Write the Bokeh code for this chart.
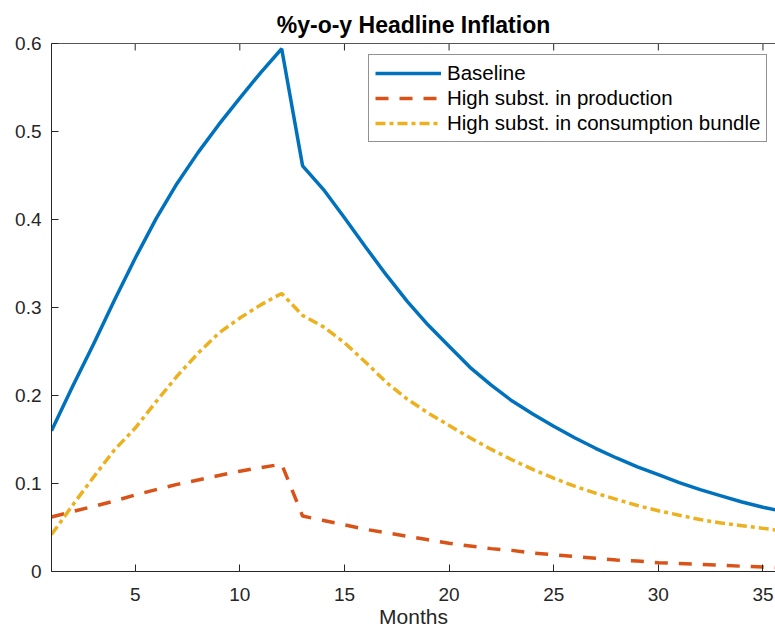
import math
from bokeh.plotting import figure
from bokeh.models import Range1d, LinearAxis, FixedTicker, Legend, LegendItem
from bokeh.embed import file_html
from bokeh.resources import INLINE

months = list(range(1, 37))
baseline = [0.160, 0.210, 0.258, 0.308, 0.356, 0.401, 0.441, 0.476, 0.508, 0.538, 0.567, 0.594,
            0.461, 0.434, 0.402, 0.369, 0.337, 0.307, 0.280, 0.256, 0.232, 0.212, 0.194, 0.179,
            0.165, 0.152, 0.140, 0.129, 0.119, 0.110, 0.101, 0.093, 0.086, 0.079, 0.073, 0.068]
high_prod = [0.062, 0.068, 0.074, 0.080, 0.087, 0.093, 0.099, 0.104, 0.109, 0.114, 0.118, 0.122,
             0.063, 0.058, 0.053, 0.048, 0.044, 0.040, 0.036, 0.032, 0.029, 0.026, 0.024, 0.021,
             0.019, 0.017, 0.015, 0.013, 0.012, 0.010, 0.009, 0.008, 0.007, 0.006, 0.005, 0.004]
high_cons = [0.042, 0.075, 0.107, 0.138, 0.163, 0.193, 0.222, 0.248, 0.271, 0.288, 0.303, 0.316,
             0.291, 0.278, 0.260, 0.238, 0.215, 0.196, 0.180, 0.166, 0.152, 0.139, 0.127, 0.116,
             0.106, 0.097, 0.089, 0.082, 0.075, 0.069, 0.064, 0.059, 0.055, 0.052, 0.049, 0.046]

x_ticks = [5, 10, 15, 20, 25, 30, 35]
y_ticks = [0, 0.1, 0.2, 0.3, 0.4, 0.5, 0.6]
y_tick_labels = ["0", "0.1", "0.2", "0.3", "0.4", "0.5", "0.6"]
x_min, x_max = 1, 35.6
y_min, y_max = 0, 0.6

FONT = "Liberation Sans"
AX = "#262626"

p = figure(width=775, height=630, x_range=Range1d(x_min, x_max), y_range=Range1d(y_min, y_max),
           output_backend="svg", toolbar_location=None,
           min_border_left=51, min_border_right=0, min_border_top=43, min_border_bottom=59)
p.background_fill_color = "white"
p.border_fill_color = "white"
p.outline_line_color = None
p.grid.visible = False

p.title.text = "%y-o-y Headline Inflation"
p.title.align = "center"
p.title.text_font = FONT
p.title.text_font_size = "23px"
p.title.text_font_style = "bold"
p.title.text_color = "black"
p.title.offset = 0
p.title.standoff = 12

for ax in (p.xaxis[0], p.yaxis[0]):
    ax.axis_line_color = AX
    ax.axis_line_width = 1
    ax.major_tick_line_color = AX
    ax.major_tick_in = 7
    ax.major_tick_out = 0
    ax.minor_tick_line_color = None
    ax.major_label_text_font = FONT
    ax.major_label_text_font_size = "19px"
    ax.major_label_text_color = AX

p.xaxis[0].ticker = FixedTicker(ticks=x_ticks)
p.xaxis[0].major_label_standoff = 16
p.xaxis[0].axis_label = "Months"
p.xaxis[0].axis_label_text_font = FONT
p.xaxis[0].axis_label_text_font_size = "21px"
p.xaxis[0].axis_label_text_font_style = "normal"
p.xaxis[0].axis_label_text_color = AX
p.xaxis[0].axis_label_standoff = 1

p.yaxis[0].ticker = FixedTicker(ticks=y_ticks)
p.yaxis[0].major_label_overrides = {t: l for t, l in zip(y_ticks, y_tick_labels)}
p.yaxis[0].major_label_standoff = 10

# top box edge (no labels), ticks drawn as inward dashes
top = LinearAxis(ticker=FixedTicker(ticks=[]), axis_line_color="#555555", axis_line_width=1,
                 major_tick_line_color=None, minor_tick_line_color=None)
p.add_layout(top, "above")
p.scatter(x_ticks, [y_max] * len(x_ticks), marker="dash", angle=math.pi / 2, size=14,
          line_color=AX, line_width=1)

r1 = p.line(months, baseline, line_color="#0072BD", line_width=3.5)
r2 = p.line(months, high_prod, line_color="#D95319", line_width=3.5, line_dash="13 11")
r3 = p.line(months, high_cons, line_color="#EDB120", line_width=3.5, line_dash="10 4 4 4")

legend = Legend(items=[LegendItem(label="Baseline", renderers=[r1]),
                       LegendItem(label="High subst. in production", renderers=[r2]),
                       LegendItem(label="High subst. in consumption bundle", renderers=[r3])],
                location=(317, 429), glyph_width=66, glyph_height=20, label_height=20,
                label_standoff=6, spacing=1, padding=6, margin=0,
                label_text_font=FONT, label_text_font_size="20.5px", label_text_color="black",
                border_line_color=AX, border_line_width=1, background_fill_alpha=1)
p.add_layout(legend, "center")

open("out.html", "w").write(file_html(p, INLINE))
